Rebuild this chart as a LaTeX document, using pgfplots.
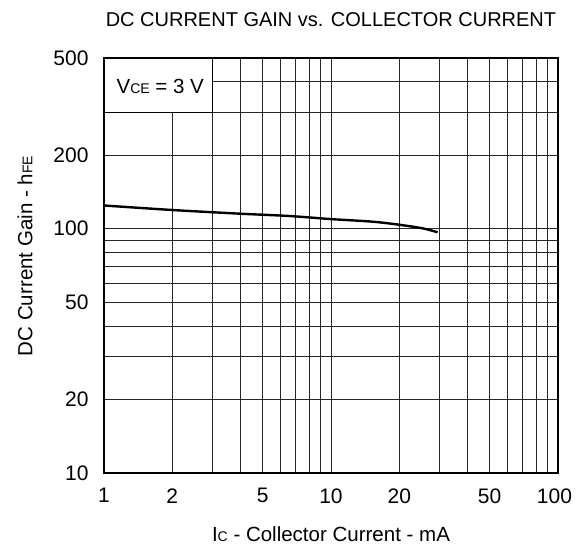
\documentclass[border=0pt]{standalone}
\usepackage{fontspec}
\setmainfont{Liberation Sans}
\usepackage{pgfplots}
\pgfplotsset{compat=1.18}
\newcommand{\sm}[1]{{\fontsize{14}{14}\selectfont #1}}
\begin{document}
\begin{tikzpicture}
\useasboundingbox (-104pt,-77pt) rectangle (475pt,473pt);
\begin{axis}[
  at={(0pt,0pt)}, anchor=south west,
  scale only axis, width=454pt, height=415pt,
  xmode=log, ymode=log,
  xmin=1, xmax=100, ymin=10, ymax=500,
  xtick={1,2,5,10,20,50,100},
  xticklabels={1,2,5,10,20,50,{\hspace*{-7pt}100}},
  ytick={10,20,50,100,200,500},
  yticklabels={10,20,50,100,200,500},
  minor xtick={3,4,6,7,8,9,30,40,60,70,80,90},
  minor ytick={30,40,60,70,80,90,300,400},
  grid=both,
  major grid style={black!85, line width=0.8pt},
  minor grid style={black!85, line width=0.8pt},
  major tick length=0pt, minor tick length=0pt,
  axis line style={line width=1.4pt},
  tick label style={font=\fontsize{21}{25}\selectfont},
  xticklabel style={yshift=-12pt},
  yticklabel style={xshift=-12pt},
  clip=true,
]
\draw[fill=white, line width=0.9pt] (axis cs:1,300) rectangle (axis cs:3,500);
\node[font=\fontsize{20.5}{24}\selectfont] at (axis cs:1.77,384) {V\sm{CE} = 3 V};
\addplot[black, line width=2.4pt, smooth] coordinates {
 (1,124.5) (2,119.3) (4,115.2) (6.6,112.7) (10,109.5) (15,107) (19.3,104.3) (25.3,100.4) (29.5,96.7)
};
\end{axis}
\node[font=\fontsize{20}{24}\selectfont] at (227pt,453.5pt) {DC CURRENT GAIN vs. COLLECTOR CURRENT};
\node[font=\fontsize{20.5}{24}\selectfont] at (227pt,-61pt) {I\sm{C} - Collector Current - mA};
\node[font=\fontsize{20.5}{24}\selectfont, rotate=90] at (-79pt,217pt) {DC Current Gain - h\sm{FE}};
\end{tikzpicture}
\end{document}
